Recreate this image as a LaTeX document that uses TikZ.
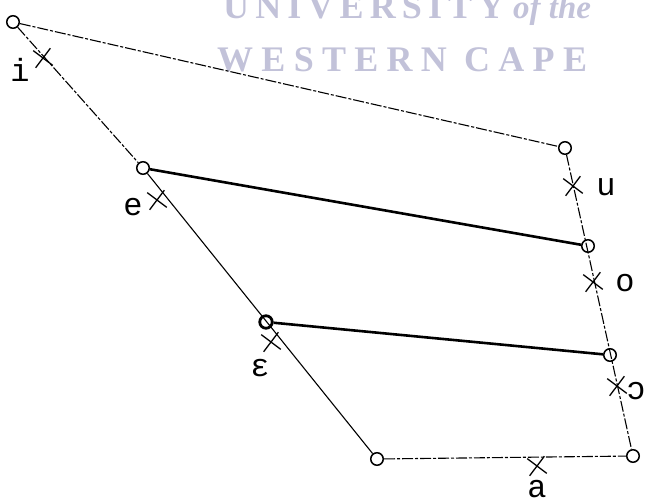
\documentclass[tikz,border=0pt]{standalone}
\usepackage{fontspec}
\setmonofont{Liberation Mono}
\newfontfamily\stampfont[LetterSpace=17]{Liberation Serif}
\newfontfamily\stampwide[LetterSpace=23]{Liberation Serif}
\newfontfamily\stampital{Liberation Serif}
\usetikzlibrary{positioning,shapes.misc}
\definecolor{stampgray}{rgb}{0.76,0.76,0.85}

\begin{document}
\begin{tikzpicture}[x=1pt,y=-1pt,
    corner/.style={circle,draw,line width=1.5pt,inner sep=0pt,minimum size=12.5pt},
    vmark/.style={cross out,draw,line width=1.3pt,inner sep=0pt,minimum size=16pt,rotate=8},
    vlabel/.style={font=\ttfamily\fontsize{32}{32}\selectfont,inner sep=0pt},
    rim/.style={line width=1.1pt,dash pattern=on 11pt off 2pt on 3pt off 2pt},
    bar/.style={line width=2.6pt}]
  \useasboundingbox (0,0) rectangle (645,503);
  % stamp behind the chart
  \node[text=stampgray,anchor=base west,inner sep=0pt,
    font=\stampfont\bfseries\fontsize{36}{36}\selectfont] (stampone) at (223,19) {UNIVERSITY};
  \node[text=stampgray,anchor=base west,inner sep=0pt,
    font=\stampital\bfseries\itshape\fontsize{33}{33}\selectfont] (stamptwo) at (513,19) {of the};
  \node[text=stampgray,anchor=base west,inner sep=0pt,
    font=\stampwide\bfseries\fontsize{36}{36}\selectfont] (stampthree) at (217,71) {WESTERN CAPE};
  % corners of the chart
  \node[corner] (tl) at (13,22) {};
  \node[corner] (tr) at (565,148) {};
  \node[corner] (bl) at (377,459) {};
  \node[corner] (br) at (633,456) {};
  \node[corner] (fe) at (143,168) {};
  \node[corner] (fo) at (588,246) {};
  \node[corner,line width=2.8pt] (feps) at (266,322) {};
  \node[corner] (fopn) at (610,355) {};
  % outline
  \draw[rim] (tl) -- (tr);
  \draw[rim] (tl) -- (fe);
  \draw[line width=1.1pt] (fe) -- (bl);
  \draw[rim] (tr) -- (br);
  \draw[rim] (bl) -- (br);
  \draw[bar] (fe) -- (fo);
  \draw[bar] (feps) -- (fopn);
  % vowel marks
  \node[vmark] (mi) at (43,58) {};
  \node[vmark] (me) at (157,200) {};
  \node[vmark] (meps) at (271,342) {};
  \node[vmark] (mu) at (573,186) {};
  \node[vmark] (mo) at (593,282) {};
  \node[vmark] (mopn) at (617,386) {};
  \node[vmark] (ma) at (537,466) {};
  \node[vlabel] (li) at (20,70) {i};
  \node[vlabel] (le) at (133,207) {e};
  \node[vlabel] (leps) at (260,368) {ɛ};
  \node[vlabel] (lu) at (606,187) {u};
  \node[vlabel] (lo) at (625,283) {o};
  \node[vlabel] (lopn) at (636,391) {ɔ};
  \node[vlabel] (la) at (537,489) {a};
\end{tikzpicture}
\end{document}
